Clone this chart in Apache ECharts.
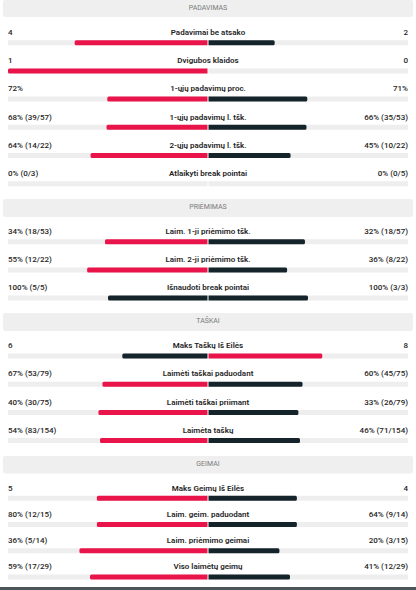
<!DOCTYPE html>
<html>
<head>
<meta charset="utf-8">
<script src="https://cdn.jsdelivr.net/npm/echarts@6/dist/echarts.min.js"></script>
<style>
html,body{margin:0;padding:0;background:#fff;}
#c{width:416px;height:590px;}
</style>
</head>
<body>
<div id="c"></div>
<script>
// ---- data ----
const sectionTitles = ['PADAVIMAS', 'PRIĖMIMAS', 'TAŠKAI', 'GEIMAI'];

const serveLabels = ['Padavimai be atsako', 'Dvigubos klaidos', '1-ųjų padavimų proc.', '1-ųjų padavimų l. tšk.', '2-ųjų padavimų l. tšk.', 'Atlaikyti break pointai'];
const serveLeft   = ['4', '1', '72%', '68% (39/57)', '64% (14/22)', '0% (0/3)'];
const serveRight  = ['2', '0', '71%', '66% (35/53)', '45% (10/22)', '0% (0/5)'];

const returnLabels = ['Laim. 1-ji priėmimo tšk.', 'Laim. 2-ji priėmimo tšk.', 'Išnaudoti break pointai'];
const returnLeft   = ['34% (18/53)', '55% (12/22)', '100% (5/5)'];
const returnRight  = ['32% (18/57)', '36% (8/22)', '100% (3/3)'];

const pointsLabels = ['Maks Taškų Iš Eilės', 'Laimėti taškai paduodant', 'Laimėti taškai priimant', 'Laimėta taškų'];
const pointsLeft   = ['6', '67% (53/79)', '40% (30/75)', '54% (83/154)'];
const pointsRight  = ['8', '60% (45/75)', '33% (26/79)', '46% (71/154)'];

const gamesLabels = ['Maks Geimų Iš Eilės', 'Laim. geim. paduodant', 'Laim. priėmimo geimai', 'Viso laimėtų geimų'];
const gamesLeft   = ['5', '80% (12/15)', '36% (5/14)', '59% (17/29)'];
const gamesRight  = ['4', '64% (9/14)', '20% (3/15)', '41% (12/29)'];

// ---- layout / style ----
const RED = '#e8144a', DARK = '#15232b', TRACK = '#eeeeee';
const FONT = 'Roboto, "Noto Sans", sans-serif';
const sections = [
  { labels: serveLabels,  left: serveLeft,  right: serveRight,  top: 28.6,  band: [0, 17] },
  { labels: returnLabels, left: returnLeft, right: returnRight, top: 227.6, band: [199, 217] },
  { labels: pointsLabels, left: pointsLeft, right: pointsRight, top: 341.9, band: [313, 331] },
  { labels: gamesLabels,  left: gamesLeft,  right: gamesRight,  top: 485.2, band: [456, 473.5] }
];
const PITCH = 28.2;

const grids = [], xAxes = [], yAxes = [], series = [], graphics = [];

sections.forEach((s, gi) => {
  grids.push({ left: 8, right: 8, top: s.top, height: s.labels.length * PITCH });
  xAxes.push({ type: 'value', gridIndex: gi, min: -1, max: 1, show: false });
  yAxes.push({ type: 'category', gridIndex: gi, data: s.labels, inverse: true, show: false });

  const a = s.left.map(t => parseFloat(t));
  const b = s.right.map(t => parseFloat(t));
  const share = a.map((v, i) => (v + b[i]) > 0 ? v / (v + b[i]) : 0);

  series.push({
    type: 'bar', xAxisIndex: gi, yAxisIndex: gi, barWidth: 5, barGap: '-100%',
    showBackground: true, backgroundStyle: { color: TRACK },
    silent: true, animation: false,
    data: share.map((v, i) => ({
      value: -v,
      itemStyle: { color: a[i] > b[i] ? RED : DARK, borderRadius: [1.5, 0, 0, 1.5] }
    }))
  });
  series.push({
    type: 'bar', xAxisIndex: gi, yAxisIndex: gi, barWidth: 5, barGap: '-100%',
    silent: true, animation: false,
    data: share.map((v, i) => ({
      value: (a[i] + b[i]) > 0 ? 1 - v : 0,
      itemStyle: { color: b[i] > a[i] ? RED : DARK, borderRadius: [0, 1.5, 1.5, 0] }
    }))
  });
  series.push({
    type: 'custom', xAxisIndex: gi, yAxisIndex: gi, z: 10, silent: true, animation: false,
    data: s.labels.map((_, i) => [0, i]),
    renderItem: function (params, api) {
      const i = params.dataIndex;
      const c = api.coord([0, i]);
      const l = api.coord([-1, i]);
      const r = api.coord([1, i]);
      const ty = c[1] - 10.3;
      return {
        type: 'group',
        children: [
          { type: 'rect', shape: { x: c[0] - 0.5, y: c[1] - 3, width: 1, height: 6 }, style: { fill: '#ffffff' } },
          { type: 'text', style: { text: s.labels[i], x: c[0], y: ty, align: 'center', verticalAlign: 'middle',
              fill: '#1e1e1e', font: '600 8px ' + FONT } },
          { type: 'text', style: { text: s.left[i], x: l[0], y: ty, align: 'left', verticalAlign: 'middle',
              fill: '#262626', font: '500 8px ' + FONT } },
          { type: 'text', style: { text: s.right[i], x: r[0], y: ty, align: 'right', verticalAlign: 'middle',
              fill: '#262626', font: '500 8px ' + FONT } }
        ]
      };
    }
  });

  graphics.push({
    type: 'rect', left: 3, top: s.band[0], silent: true,
    shape: { width: 410, height: s.band[1] - s.band[0], r: 2 },
    style: { fill: '#efefef' }
  });
  graphics.push({
    type: 'text', left: 'center', top: (s.band[0] + s.band[1]) / 2 - 4.5, silent: true,
    style: { text: sectionTitles[gi], fill: '#7a7a7a', font: '400 7px ' + FONT }
  });
});

graphics.push({ type: 'rect', left: 0, top: 587, silent: true, shape: { width: 416, height: 3 }, style: { fill: '#4d555b' } });

const chart = echarts.init(document.getElementById('c'), null, { renderer: 'svg' });
chart.setOption({
  animation: false,
  grid: grids, xAxis: xAxes, yAxis: yAxes, series: series, graphic: graphics
});
</script>
</body>
</html>
